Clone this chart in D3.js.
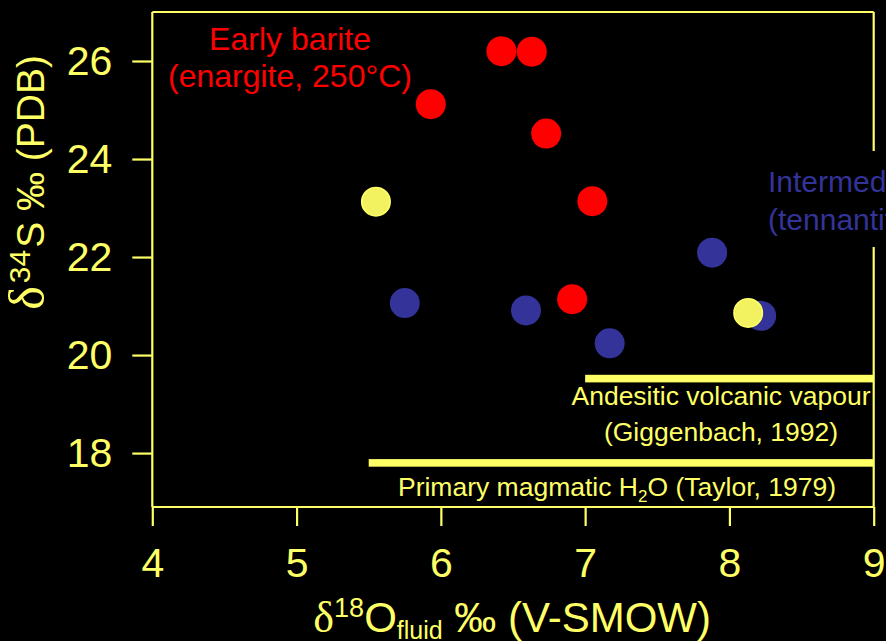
<!DOCTYPE html>
<html>
<head>
<meta charset="utf-8">
<script src="https://cdn.jsdelivr.net/npm/d3@7/dist/d3.min.js"></script>
<style>
  html, body { margin: 0; padding: 0; background: #000; }
  svg { display: block; font-family: "Liberation Sans", Arial, sans-serif; }
</style>
</head>
<body>
<svg id="chart" width="886" height="641"></svg>
<script>
// ---- data ----
const xTicks = [4, 5, 6, 7, 8, 9];
const yTicks = [18, 20, 22, 24, 26];

const earlyX = [6.42, 6.63, 5.93, 6.73, 7.05, 6.91];
const earlyY = [26.20, 26.19, 25.12, 24.52, 23.14, 21.14];

const interX = [5.75, 6.59, 7.17, 7.88, 8.22];
const interY = [21.06, 20.91, 20.24, 22.09, 20.80];

const yellowX = [5.55, 8.13];
const yellowY = [23.13, 20.86];

const rangeNames = ["Andesitic volcanic vapour", "Primary magmatic H2O"];
const rangeStart = [7.0, 5.5];
const rangeEnd = [9.0, 9.0];
const rangeY = [19.52, 17.8];

// ---- setup ----
const YEL = "#ffff66", RED = "#ff0000", BLUE = "#333399";
const svg = d3.select("#chart");
svg.append("rect").attr("width", 886).attr("height", 641).attr("fill", "#000");

const x = d3.scaleLinear().domain([4, 9]).range([152.3, 873.7]);
const y = d3.scaleLinear().domain([16.9, 27.0]).range([507, 12]);

const L = x(4), R = x(9), T = y(27.0), B = y(16.9);

// frame
const frame = svg.append("g").attr("stroke", YEL).attr("stroke-width", 2.2).attr("fill", "none");
frame.append("line").attr("x1", L).attr("x2", R).attr("y1", T).attr("y2", T);
frame.append("line").attr("x1", L).attr("x2", R).attr("y1", B).attr("y2", B);
frame.append("line").attr("x1", L).attr("x2", L).attr("y1", T).attr("y2", B);
frame.append("line").attr("x1", R).attr("x2", R).attr("y1", T).attr("y2", B);

// axes
const xAxis = svg.append("g").attr("transform", `translate(0,${B})`)
  .call(d3.axisBottom(x).tickValues(xTicks).tickSize(19).tickSizeOuter(0).tickFormat(d3.format("d")));
const yAxis = svg.append("g").attr("transform", `translate(${L},0)`)
  .call(d3.axisLeft(y).tickValues(yTicks).tickSize(20).tickSizeOuter(0).tickPadding(20).tickFormat(d3.format("d")));
[xAxis, yAxis].forEach(a => {
  a.select(".domain").remove();
  a.selectAll(".tick line").attr("stroke", YEL).attr("stroke-width", 2.2);
  a.selectAll(".tick text").attr("fill", YEL).attr("font-size", 41)
    .attr("font-family", "'Liberation Sans', Arial, sans-serif");
});
xAxis.selectAll(".tick text").attr("dy", null).attr("y", 70);

// range bars
const bars = svg.append("g");
rangeNames.forEach((n, i) => {
  bars.append("rect")
    .attr("x", x(rangeStart[i])).attr("width", x(rangeEnd[i]) - x(rangeStart[i]))
    .attr("y", y(rangeY[i]) - 3.8).attr("height", 7.6)
    .attr("fill", YEL);
});

// range labels
const lab = svg.append("g").attr("fill", YEL).attr("font-size", 26.5).attr("text-anchor", "middle");
lab.append("text").attr("x", 721).attr("y", 405).text("Andesitic volcanic vapour");
lab.append("text").attr("x", 721).attr("y", 441).text("(Giggenbach, 1992)");
const pm = lab.append("text").attr("x", 617).attr("y", 496);
pm.append("tspan").text("Primary magmatic H");
pm.append("tspan").attr("font-size", 17).attr("dy", 6).text("2");
pm.append("tspan").attr("dy", -6).text("O (Taylor, 1979)");

// points
const pts = svg.append("g");
pts.selectAll("circle.inter").data(interX).join("circle").attr("class", "inter")
  .attr("cx", d => x(d)).attr("cy", (d, i) => y(interY[i])).attr("r", 15).attr("fill", BLUE);
pts.selectAll("circle.yel").data(yellowX).join("circle").attr("class", "yel")
  .attr("cx", d => x(d)).attr("cy", (d, i) => y(yellowY[i])).attr("r", 14.2)
  .attr("fill", "#f2f260").attr("stroke", "#ffff66").attr("stroke-width", 1.6);
pts.selectAll("circle.early").data(earlyX).join("circle").attr("class", "early")
  .attr("cx", d => x(d)).attr("cy", (d, i) => y(earlyY[i])).attr("r", 15).attr("fill", RED);

// group labels
const eb = svg.append("g").attr("fill", RED).attr("font-size", 32).attr("text-anchor", "middle");
eb.append("text").attr("x", 290).attr("y", 50).text("Early barite");
eb.append("text").attr("x", 290).attr("y", 87).text("(enargite, 250°C)");

svg.append("rect").attr("x", 758).attr("y", 151).attr("width", 128).attr("height", 96).attr("fill", "#000");
const ib = svg.append("g").attr("fill", BLUE).attr("font-size", 30);
ib.append("text").attr("x", 768).attr("y", 192).text("Intermediate barite");
ib.append("text").attr("x", 768).attr("y", 230).text("(tennantite)");

// axis titles
const serif = "'Liberation Serif', 'DejaVu Serif', serif";
const xt = svg.append("text").attr("x", 711).attr("y", 632).attr("text-anchor", "end")
  .attr("fill", YEL).attr("font-size", 42);
xt.append("tspan").attr("font-family", serif).attr("font-size", 44).text("δ");
xt.append("tspan").attr("font-size", 27).attr("dy", -15).text("18");
xt.append("tspan").attr("dy", 15).text("O");
xt.append("tspan").attr("font-size", 25).attr("dy", 7).text("fluid");
xt.append("tspan").attr("dy", -7).text(" ‰ (V-SMOW)");

const yt = svg.append("text").attr("transform", "translate(44,55) rotate(-90)")
  .attr("text-anchor", "end").attr("fill", YEL).attr("font-size", 39);
yt.append("tspan").attr("font-family", serif).attr("font-size", 50).text("δ");
yt.append("tspan").attr("font-size", 30).attr("dx", 3).attr("dy", -14).text("34");
yt.append("tspan").attr("dx", 2).attr("dy", 14).text("S ‰ (PDB)");
</script>
</body>
</html>
